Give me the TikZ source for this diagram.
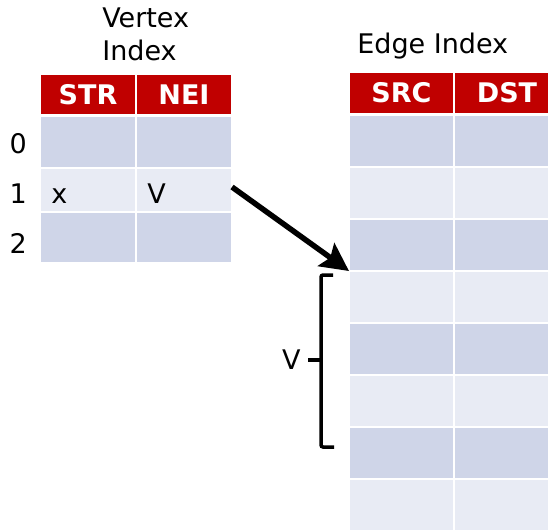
\documentclass[tikz,border=0pt]{standalone}
\usepackage{fontspec}
\setmainfont{DejaVu Sans}
\usetikzlibrary{positioning,arrows.meta}
\definecolor{hdrred}{HTML}{C00000}
\definecolor{rowdark}{HTML}{CFD5E8}
\definecolor{rowlight}{HTML}{E8EBF4}
\tikzset{
  cell/.style={draw=white,line width=1.5pt,inner sep=0pt,outer sep=0pt},
  hdr/.style={cell,fill=hdrred,text=white,font=\fontsize{27}{32}\selectfont\bfseries},
  plain/.style={inner sep=0pt}
}
\begin{document}
\begin{tikzpicture}[x=1pt,y=-1pt,line width=0.6pt,font=\fontsize{27}{32}\selectfont]
  \useasboundingbox (0,0) rectangle (548,531);
  \clip (0,0) rectangle (548,531);

  % vertex index
  \node[plain,anchor=base west] (vtitle) at (102,27) {Vertex};
  \node[plain,anchor=base west] (vtitle2) at (102,60) {Index};
  \foreach \col/\cx/\txt in {s/88/STR,n/184/NEI}
    \node[hdr,minimum width=96pt,minimum height=41pt] (vh\col) at (\cx,94.5) {\txt};
  \foreach \r/\cy/\h/\shade/\bl in {0/142/51/rowdark/153,1/190/44/rowlight/203,2/237.5/51/rowdark/253}{
    \foreach \col/\cx in {s/88,n/184}
      \node[cell,fill=\shade,minimum width=96pt,minimum height=\h pt] (v\r\col) at (\cx,\cy) {};
    \node[plain,anchor=base east] (vlab\r) at (27,\bl) {\r};
  }
  \node[plain,anchor=base west] (xval) at (51,203) {x};
  \node[plain,anchor=base west] (nval) at (147,203) {V};

  % edge index
  \node[plain,anchor=base west] (etitle) at (357,53) {Edge Index};
  \foreach \col/\cx/\txt in {s/401.5/SRC,d/507/DST}
    \node[hdr,minimum width=105pt,minimum height=42pt] (eh\col) at (\cx,93) {\txt};
  \foreach \r in {0,...,7}{
    \ifodd\r \def\shade{rowlight}\else \def\shade{rowdark}\fi
    \foreach \col/\cx in {s/401.5,d/507}
      \node[cell,fill=\shade,minimum width=105pt,minimum height=52pt] (e\r\col) at (\cx,{141+52*\r}) {};
  }

  % pointer and bracket
  \draw[line width=5.5pt,-{Stealth[length=28pt,width=28pt,inset=5pt]}] ([yshift=3pt]v1n.east) -- (e3s.north west);

  \coordinate (btop) at (321,275);
  \coordinate (bbot) at (321,447);
  \coordinate (bmid) at (321,360);
  \draw[line width=3.5pt,rounded corners=2pt] ([xshift=12pt]btop) -- (btop) -- (bbot) -- ([xshift=13pt]bbot);
  \draw[line width=3.5pt] (bmid) -- ++(-13,0) coordinate (btick);
  \node[plain,left=7pt of btick] (vlen) {V};
\end{tikzpicture}
\end{document}
